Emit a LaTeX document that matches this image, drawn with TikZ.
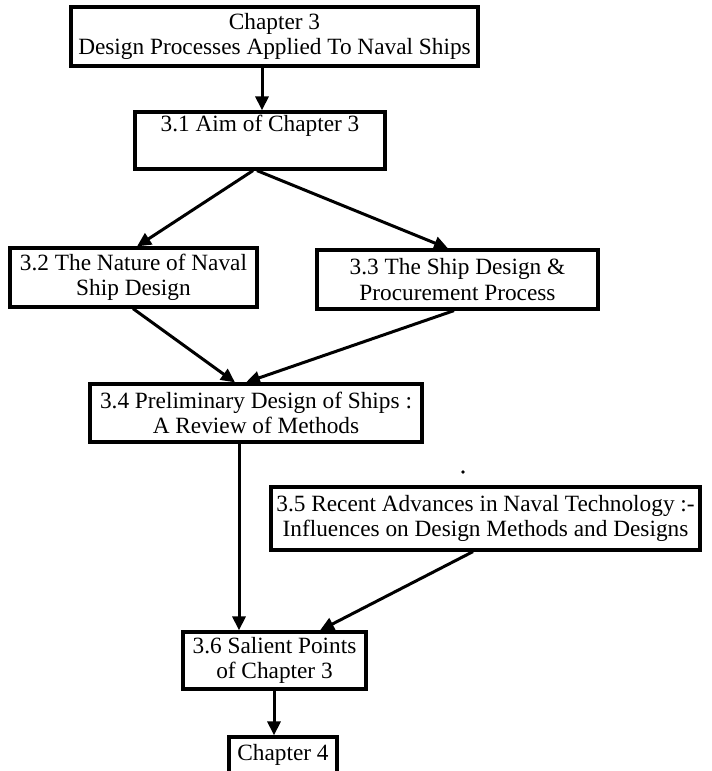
\documentclass[tikz,border=0pt]{standalone}
\usepackage{fontspec}
\setmainfont{Liberation Serif}
\usetikzlibrary{arrows.meta}

\tikzset{
  box/.style={draw, line width=3.2pt, inner sep=0pt, align=center,
    font=\fontsize{23.3}{25.5}\selectfont},
  flow/.style={line width=3pt,
    -{Triangle[length=14pt,width=13pt]}}
}

\begin{document}
\begin{tikzpicture}[x=1pt, y=-1pt]
  \useasboundingbox (0,0) rectangle (712,771);
  \clip (0,0) rectangle (712,771);

  % chapter boxes and sections
  \node[box, minimum width=407pt, minimum height=59pt] (c3) at (274.5,36.5)
    {Chapter 3\\Design Processes Applied To Naval Ships};
  \node[box, minimum width=250pt, minimum height=57pt,
        text height=15pt, text depth=34pt] (s31) at (260,140.5)
    {3.1 Aim of Chapter 3};
  \node[box, minimum width=247pt, minimum height=59pt] (s32) at (133.5,277.5)
    {3.2 The Nature of Naval\\Ship Design};
  \node[box, minimum width=281pt, minimum height=59pt] (s33) at (457.5,279.5)
    {3.3 The Ship Design \&\\Procurement Process};
  \node[box, minimum width=332pt, minimum height=58pt] (s34) at (256,413)
    {3.4 Preliminary Design of Ships :\\A Review of Methods};
  \node[box, minimum width=429pt, minimum height=63pt] (s35) at (485.5,518.5)
    {3.5 Recent Advances in Naval Technology :-\\Influences on Design Methods and Designs};
  \node[box, minimum width=108pt, minimum height=56pt,
        text height=15pt, text depth=25pt] (c4) at (283,765)
    {Chapter 4};
  \node[box, minimum width=183pt, minimum height=57pt] (s36) at (274.5,660.5)
    {3.6 Salient Points\\of Chapter 3};

  % small mark beside 3.5
  \fill (463,472) circle (1.8pt);

  % connectors
  \draw[flow] ([xshift=-12.5pt]c3.south) -- ([xshift=2pt]s31.north);
  \draw[flow] ([xshift=-7pt]s31.south) -- ([xshift=3.5pt]s32.north);
  \draw[flow] ([xshift=-3pt]s31.south) -- ([xshift=-9.5pt]s33.north);
  \draw[flow] ([xshift=-0.5pt]s32.south) -- ([xshift=-21pt]s34.north);
  \draw[flow] ([xshift=-3.5pt]s33.south) -- ([xshift=-10pt]s34.north);
  \draw[flow] ([xshift=-17pt]s34.south) -- ([xshift=-35.5pt]s36.north);
  \draw[flow] ([xshift=-12.5pt]s35.south) -- ([xshift=45.5pt]s36.north);
  \draw[flow] ([xshift=-0.5pt]s36.south) -- ([xshift=-9pt]c4.north);
\end{tikzpicture}
\end{document}
